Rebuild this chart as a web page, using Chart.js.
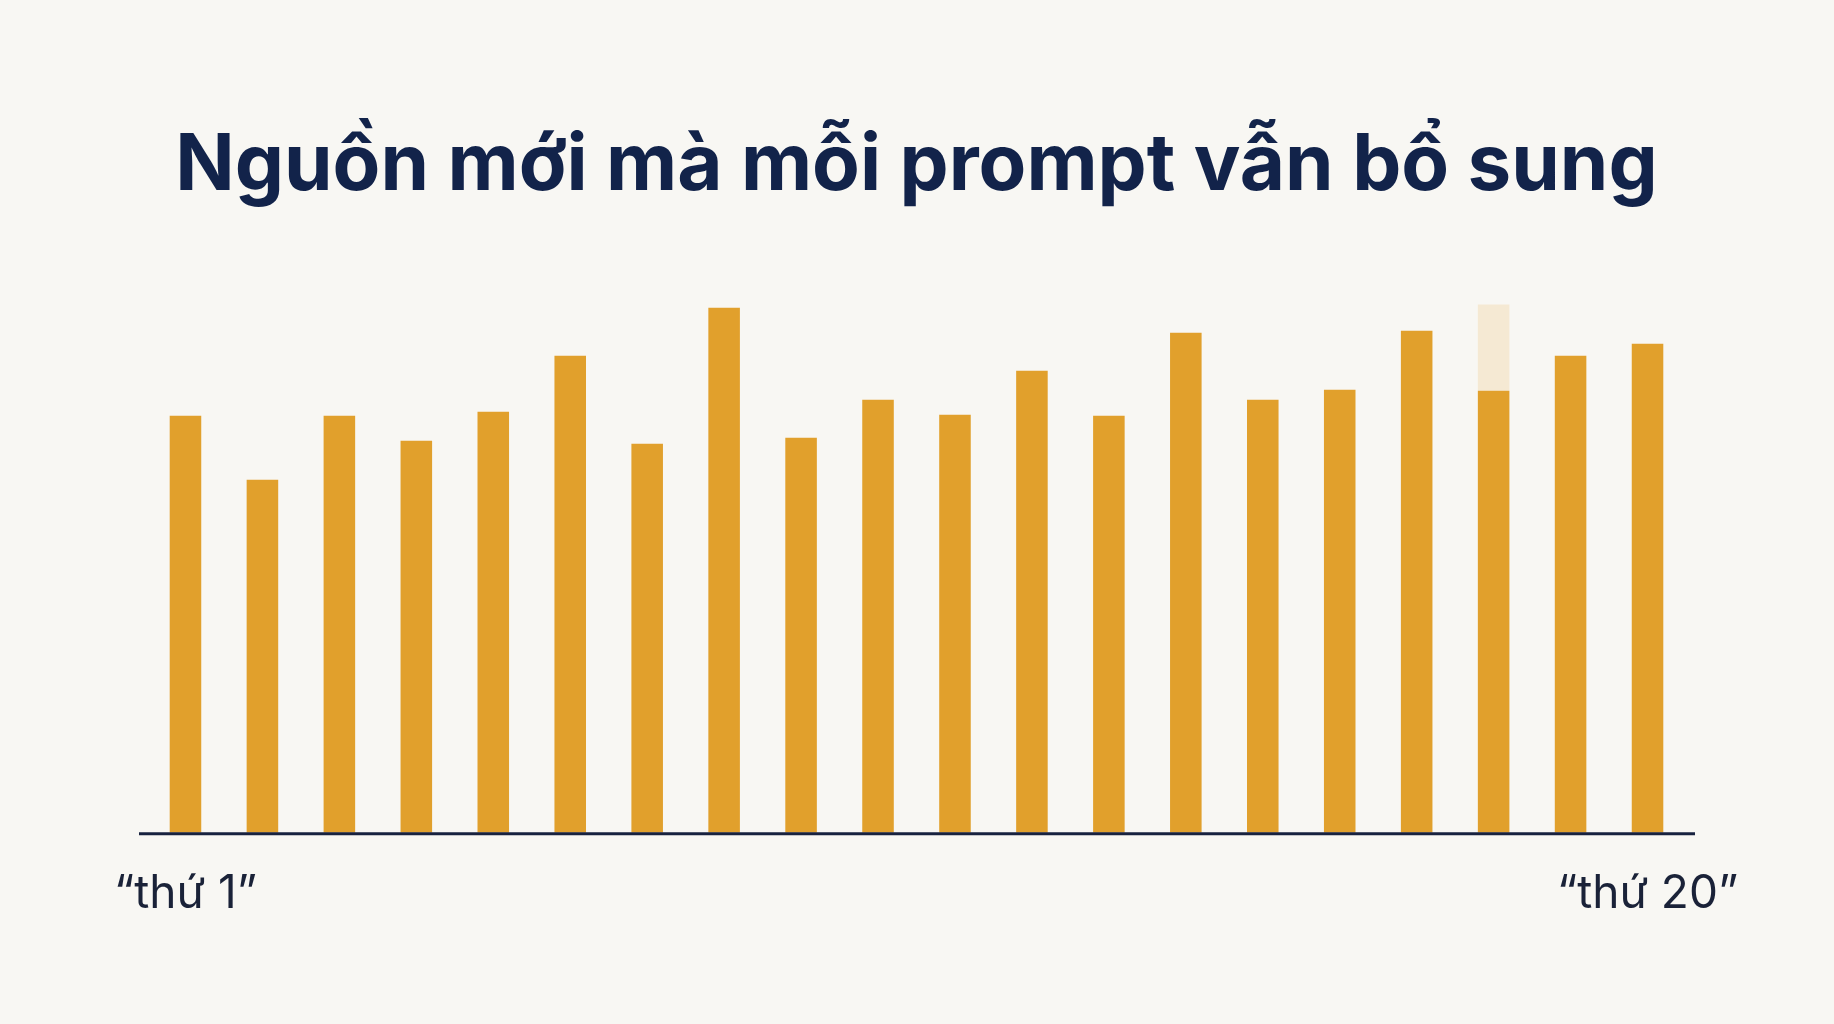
<!DOCTYPE html>
<html lang="vi">
<head>
<meta charset="utf-8">
<title>Nguồn mới mà mỗi prompt vẫn bổ sung</title>
<script src="https://cdn.jsdelivr.net/npm/chart.js@4.4.1/dist/chart.umd.min.js"></script>
<style>
  html, body { margin: 0; padding: 0; background: #f8f7f3; }
  #wrap { width: 1834px; height: 1024px; position: relative; }
</style>
</head>
<body>
<div id="wrap"><canvas id="chart"></canvas></div>
<script>
// prompt runs, 1st to 20th
const runs = ['thứ 1', 'thứ 2', 'thứ 3', 'thứ 4', 'thứ 5', 'thứ 6', 'thứ 7', 'thứ 8', 'thứ 9', 'thứ 10',
  'thứ 11', 'thứ 12', 'thứ 13', 'thứ 14', 'thứ 15', 'thứ 16', 'thứ 17', 'thứ 18', 'thứ 19', 'thứ 20'];
// new sources each prompt still adds
const newSources = [417, 353, 417, 392, 421, 477, 389, 525, 395, 433, 418, 462, 417, 500, 433, 443, 502, 442, 477, 489];
// faded extra on the 18th run
const fadedExtra = [null, null, null, null, null, null, null, null, null, null,
  null, null, null, null, null, null, null, 86, null, null];
const shownTicks = [0, 19];

const NAVY = '#12234a';

// draws the dark base line, a bit wider than the bars
const baseLine = {
  id: 'baseLine',
  afterDatasetsDraw(chart) {
    const { ctx, chartArea, scales } = chart;
    const y = scales.y.getPixelForValue(0) + 1;
    ctx.save();
    ctx.strokeStyle = '#18223f';
    ctx.lineWidth = 3;
    ctx.beginPath();
    ctx.moveTo(chartArea.left - 8, y);
    ctx.lineTo(chartArea.right + 9, y);
    ctx.stroke();
    ctx.restore();
  }
};

new Chart(document.getElementById('chart'), {
  type: 'bar',
  data: {
    labels: runs,
    datasets: [
      {
        data: newSources,
        backgroundColor: '#e1a02c',
        barPercentage: 0.41,
        categoryPercentage: 1.0
      },
      {
        data: fadedExtra,
        backgroundColor: '#f5e9d3',
        barPercentage: 0.41,
        categoryPercentage: 1.0
      }
    ]
  },
  options: {
    responsive: true,
    maintainAspectRatio: false,
    devicePixelRatio: 1,
    animation: false,
    layout: { padding: { top: 0, left: 147, right: 148, bottom: 69 } },
    plugins: {
      legend: { display: false },
      tooltip: { enabled: false },
      title: {
        display: true,
        text: 'Nguồn mới mà mỗi prompt vẫn bổ sung',
        color: NAVY,
        font: { family: 'Inter', size: 78, weight: '700', lineHeight: 1.2 },
        padding: { top: 120, bottom: 19 }
      }
    },
    scales: {
      x: {
        stacked: true,
        grid: { display: false, drawTicks: false },
        border: { display: false },
        ticks: {
          autoSkip: false,
          maxRotation: 0,
          minRotation: 0,
          padding: 33.5,
          color: '#1a2238',
          font: { family: 'Inter', size: 46, weight: '400', lineHeight: 1.2 },
          callback: (v, i) => shownTicks.includes(i) ? '“' + runs[i] + '”' : ''
        }
      },
      y: {
        stacked: true,
        display: false,
        min: 0,
        max: 600
      }
    }
  },
  plugins: [baseLine]
});
</script>
</body>
</html>
